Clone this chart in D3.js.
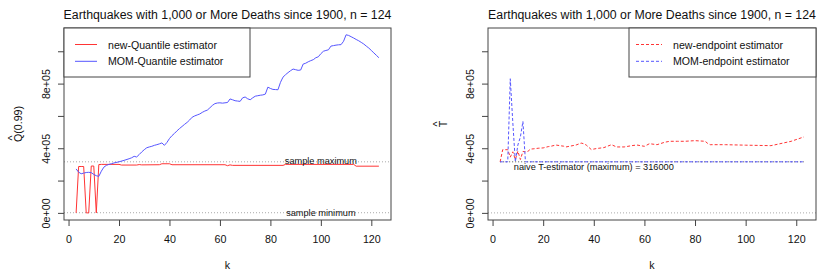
<!DOCTYPE html>
<html>
<head>
<meta charset="utf-8">
<script src="https://cdn.jsdelivr.net/npm/d3@7"></script>
<style>
  body { margin: 0; background: #fff; }
  svg { font-family: "Liberation Sans", Arial, sans-serif; }
</style>
</head>
<body>
<div id="vis"></div>
<script>
// Data, deaths in thousands

// left panel: new-Quantile estimator (red)
const K_NEWQ = [3, 4, 5, 6, 7, 8, 9, 10, 11, 12, 13, 20, 21, 27, 28, 29, 36, 37, 40, 41, 62, 63, 64, 65, 85, 86, 113, 114, 123];
const V_NEWQ = [0, 287, 287, 287, 0, 0, 290, 290, 0, 299, 300, 300, 296, 296, 299, 297, 298, 304, 304, 298, 298, 292, 297, 294, 294, 300, 300, 289, 289];

// left panel: MOM-Quantile estimator (blue)
const K_MOMQ = [3, 4, 5, 6, 7, 8, 9, 10, 11, 12, 13, 14, 15, 16, 17, 18, 20, 22, 24, 25, 26, 27, 28, 29, 30, 31, 32, 33, 34, 35,
                36, 37, 38, 39, 40, 41, 42, 43, 44, 45, 46, 47, 48, 49, 50, 51, 52, 53, 54, 55, 56, 57, 58, 59, 60, 61, 62, 63, 64, 65,
                66, 67, 68, 69, 70, 71, 72, 73, 74, 75, 76, 77, 78, 79, 80, 81, 82, 83, 84, 85, 86, 87, 88, 89, 90, 91, 92, 93, 94, 95,
                96, 97, 98, 99, 100, 101, 102, 103, 104, 105, 106, 107, 108, 109, 110, 111, 112, 113, 114, 115, 116, 117, 118, 119, 120,
                121, 122, 123];
const V_MOMQ = [272, 252, 242, 246, 250, 251, 249, 238, 230, 226, 258, 283, 294, 300, 304, 309, 316, 325, 335, 341, 350, 346, 361, 377, 391, 403, 408, 412, 418, 422,
                427, 433, 418, 436, 460, 478, 492, 508, 522, 535, 548, 560, 575, 592, 600, 606, 612, 622, 630, 636, 650, 665, 676, 680, 681, 679, 681, 683, 705, 700,
                694, 692, 690, 712, 717, 706, 700, 712, 722, 725, 728, 730, 735, 778, 770, 764, 763, 762, 808, 840, 855, 868, 880, 890, 886, 882, 884, 921, 926, 935,
                942, 948, 960, 966, 985, 1000, 1005, 1009, 1032, 1035, 1038, 1040, 1041, 1062, 1102, 1098, 1090, 1082, 1073, 1065, 1055, 1045, 1032, 1020, 1005,
                990, 975, 960];

// right panel: new-endpoint estimator (red, dashed)
const K_NEWE = [3, 4, 5, 6, 7, 8, 9, 10, 11, 12, 13, 14, 15, 16, 18, 20, 22, 23, 25, 27, 28, 29, 31, 33, 35, 36, 37, 39, 41, 44, 47, 49, 52, 55,
                57, 60, 62, 65, 68, 70, 73, 76, 80, 84, 85, 86, 92, 100, 110, 113, 118, 123];
const V_NEWE = [316, 391, 391, 391, 345, 378, 330, 382, 330, 380, 378, 381, 395, 396, 400, 402, 410, 412, 420, 415, 413, 408, 414, 420, 432, 428, 420, 392, 398, 404, 422, 408, 408, 416,
                420, 412, 428, 422, 437, 443, 443, 443, 447, 443, 430, 422, 422, 419, 416, 426, 443, 470];

// right panel: MOM-endpoint estimator (blue, dashed)
const K_MOME = [3, 4, 5, 6, 7, 8, 9, 10, 11, 12, 13, 123];
const V_MOME = [316, 316, 316, 316, 830, 560, 316, 420, 470, 566, 316, 316];

const SAMPLE_MAX = 316;
const SAMPLE_MIN = 1;
const NAIVE_K = [3, 123];

const X_TICKS = [0, 20, 40, 60, 80, 100, 120];
const Y_TICKS = [0, 200, 400, 600, 800, 1000];
const Y_TICK_LABELS = {0: "0e+00", 400: "4e+05", 800: "8e+05"};

const TITLE = "Earthquakes with 1,000 or More Deaths since 1900, n = 124";

// frame
const FRAME_WIDTH = 820;
const FRAME_HEIGHT = 274;
const TOP = 28;
const BOTTOM = 220;
const AXIS_COL = "#444";
const TEXT_COL = "#111";
const RED = "#ff3434";
const BLUE = "#5656ff";

const SVG = d3.select("#vis")
              .append("svg")
                .attr("width", FRAME_WIDTH)
                .attr("height", FRAME_HEIGHT);

SVG.append("rect").attr("width", FRAME_WIDTH).attr("height", FRAME_HEIGHT).attr("fill", "#fff");

const Y_SCALE = d3.scaleLinear().domain([-44, 1144]).range([BOTTOM, TOP]);

// builds one panel
function draw_panel(cfg) {
  const X_SCALE = d3.scaleLinear().domain([-1.8, 127.8]).range([cfg.left, cfg.right]);
  const g = SVG.append("g");
  const line = d3.line().x((d) => X_SCALE(d[0])).y((d) => Y_SCALE(d[1]));

  // reference lines (gray dotted)
  cfg.refs.forEach((v) => {
    g.append("line")
      .attr("x1", cfg.left).attr("x2", cfg.right)
      .attr("y1", Y_SCALE(v)).attr("y2", Y_SCALE(v))
      .attr("stroke", "#aaa").attr("stroke-width", 1)
      .attr("stroke-dasharray", "1,2");
  });

  // naive estimator line, drawn under the series
  if (cfg.naive) {
    g.append("line")
      .attr("x1", X_SCALE(NAIVE_K[0])).attr("x2", X_SCALE(NAIVE_K[1]))
      .attr("y1", Y_SCALE(SAMPLE_MAX)).attr("y2", Y_SCALE(SAMPLE_MAX))
      .attr("stroke", "#555").attr("stroke-width", 1)
      .attr("stroke-dasharray", "1,2");
  }

  // series
  cfg.series.forEach((s) => {
    g.append("path")
      .attr("d", line(d3.zip(s.k, s.v)))
      .attr("fill", "none")
      .attr("stroke", s.color)
      .attr("stroke-width", 1)
      .attr("stroke-dasharray", s.dash);
  });

  // annotations
  cfg.notes.forEach((n) => {
    g.append("text")
      .attr("x", X_SCALE(n.k))
      .attr("y", Y_SCALE(n.v) + n.dy)
      .attr("text-anchor", "middle")
      .attr("dominant-baseline", "central")
      .attr("font-size", "9.2px")
      .attr("fill", TEXT_COL)
      .text(n.text);
  });

  // box
  g.append("rect")
    .attr("x", cfg.left).attr("y", TOP)
    .attr("width", cfg.right - cfg.left).attr("height", BOTTOM - TOP)
    .attr("fill", "none").attr("stroke", AXIS_COL);

  // x axis
  const xa = g.append("g").attr("transform", "translate(0," + BOTTOM + ")")
    .call(d3.axisBottom(X_SCALE).tickValues(X_TICKS).tickSize(6).tickPadding(9).tickSizeOuter(0));
  xa.select(".domain").remove();
  xa.selectAll("line").attr("stroke", AXIS_COL);
  xa.selectAll("text").attr("font-size", "10.7px").attr("fill", TEXT_COL).attr("font-family", null);

  // y axis
  const ya = g.append("g").attr("transform", "translate(" + cfg.left + ",0)")
    .call(d3.axisLeft(Y_SCALE).tickValues(Y_TICKS).tickSize(6).tickSizeOuter(0)
            .tickFormat((d) => Y_TICK_LABELS[d] || ""));
  ya.select(".domain").remove();
  ya.selectAll("line").attr("stroke", AXIS_COL);
  ya.selectAll("text")
    .attr("x", null).attr("dy", null)
    .attr("transform", "translate(-18,0) rotate(-90)")
    .attr("text-anchor", "middle")
    .attr("dominant-baseline", "central")
    .attr("font-size", "10.7px").attr("fill", TEXT_COL).attr("font-family", null);

  // title
  g.append("text")
    .attr("x", (cfg.left + cfg.right) / 2).attr("y", 19)
    .attr("text-anchor", "middle")
    .attr("font-size", "12.3px").attr("fill", TEXT_COL)
    .text(TITLE);

  // x label
  g.append("text")
    .attr("x", (cfg.left + cfg.right) / 2).attr("y", 269)
    .attr("text-anchor", "middle")
    .attr("font-size", "10.7px").attr("fill", TEXT_COL)
    .text("k");

  // y label with hat
  const yl = g.append("g")
    .attr("transform", "translate(" + (cfg.left - cfg.ylabOffset) + "," + ((TOP + BOTTOM) / 2) + ") rotate(-90)");
  const lt = yl.append("text")
    .attr("y", 4).attr("text-anchor", "middle")
    .attr("font-size", "10.7px").attr("fill", TEXT_COL)
    .text(cfg.ylab);
  const w = lt.node().getComputedTextLength();
  yl.append("text")
    .attr("x", -w / 2 + cfg.hatShift).attr("y", -1.5)
    .attr("text-anchor", "middle")
    .attr("font-size", "10.7px").attr("fill", TEXT_COL)
    .text("^");

  // legend
  const lg = g.append("g");
  lg.append("rect")
    .attr("x", cfg.legend.x0).attr("y", TOP)
    .attr("width", cfg.legend.x1 - cfg.legend.x0).attr("height", 49)
    .attr("fill", "#fff").attr("stroke", AXIS_COL);
  cfg.series.forEach((s, i) => {
    const yy = 44.5 + i * 16.8;
    lg.append("line")
      .attr("x1", cfg.legend.l0).attr("x2", cfg.legend.l1)
      .attr("y1", yy).attr("y2", yy)
      .attr("stroke", s.color).attr("stroke-dasharray", s.dash);
    lg.append("text")
      .attr("x", cfg.legend.tx).attr("y", yy)
      .attr("dominant-baseline", "central")
      .attr("font-size", "10.6px").attr("fill", TEXT_COL)
      .text(s.name);
  });
}

draw_panel({
  left: 64, right: 391,
  ylab: "Q(0.99)", ylabOffset: 46.3, hatShift: 4.2,
  refs: [SAMPLE_MAX, SAMPLE_MIN],
  naive: false,
  series: [
    {name: "new-Quantile estimator", k: K_NEWQ, v: V_NEWQ, color: RED, dash: null},
    {name: "MOM-Quantile estimator", k: K_MOMQ, v: V_MOMQ, color: BLUE, dash: null}
  ],
  notes: [
    {k: 100, v: SAMPLE_MAX, dy: -1, text: "sample maximum"},
    {k: 100, v: SAMPLE_MIN, dy: 0, text: "sample minimum"}
  ],
  legend: {x0: 64, x1: 250, l0: 75, l1: 97, tx: 108}
});

draw_panel({
  left: 488, right: 816,
  ylab: "T", ylabOffset: 45.3, hatShift: 3.3,
  refs: [0],
  naive: true,
  series: [
    {name: "new-endpoint estimator", k: K_NEWE, v: V_NEWE, color: RED, dash: "3,2"},
    {name: "MOM-endpoint estimator", k: K_MOME, v: V_MOME, color: BLUE, dash: "3,2"}
  ],
  notes: [
    {k: 40, v: SAMPLE_MAX, dy: 5.5, text: "naive T-estimator (maximum) = 316000"}
  ],
  legend: {x0: 629, x1: 816, l0: 636, l1: 662, tx: 673}
});
</script>
</body>
</html>
